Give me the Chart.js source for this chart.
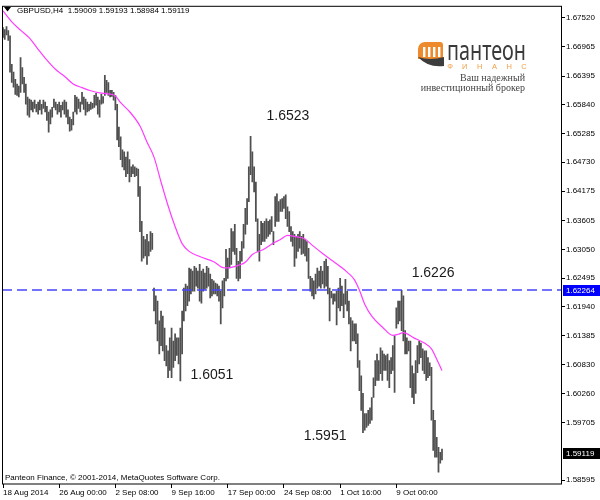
<!DOCTYPE html>
<html>
<head>
<meta charset="utf-8">
<script src="https://cdn.jsdelivr.net/npm/chart.js@4.4.1/dist/chart.umd.min.js"></script>
<style>
html, body { margin: 0; padding: 0; background: #fff; }
</style>
</head>
<body>
<canvas id="chart" width="600" height="500"></canvas>
<script>
// GBPUSD H4, bar index 0 = 18 Aug 2014
const dateLabels = ['18 Aug 2014', '26 Aug 00:00', '2 Sep 08:00', '9 Sep 16:00', '17 Sep 00:00', '24 Sep 08:00', '1 Oct 16:00', '9 Oct 00:00'];
const dateTickIdx = [0, 32, 64, 96, 128, 160, 192, 224];

const highs = [
  1.6733, 1.6729, 1.6735, 1.6727, 1.6717, 1.6662, 1.6647, 1.6633, 1.6624, 1.6620,
  1.6675, 1.6656, 1.6637, 1.6624, 1.6599, 1.6595, 1.6593, 1.6589, 1.6593, 1.6585,
  1.6589, 1.6593, 1.6585, 1.6593, 1.6589, 1.6581, 1.6570, 1.6574, 1.6579, 1.6595,
  1.6589, 1.6585, 1.6589, 1.6583, 1.6589, 1.6593, 1.6589, 1.6574, 1.6560, 1.6556,
  1.6570, 1.6602, 1.6599, 1.6595, 1.6589, 1.6608, 1.6599, 1.6595, 1.6589, 1.6585,
  1.6589, 1.6587, 1.6602, 1.6606, 1.6599, 1.6593, 1.6604, 1.6600, 1.6641, 1.6631,
  1.6627, 1.6612, 1.6612, 1.6608, 1.6602, 1.6585, 1.6541, 1.6522, 1.6497, 1.6493,
  1.6483, 1.6493, 1.6478, 1.6464, 1.6468, 1.6464, 1.6462, 1.6460, 1.6426, 1.6359,
  1.6330, 1.6324, 1.6334, 1.6320, 1.6339, 1.6336, 1.6230, 1.6215, 1.6205, 1.6167,
  1.6186, 1.6176, 1.6153, 1.6119, 1.6109, 1.6134, 1.6153, 1.6128, 1.6142, 1.6134,
  1.6134, 1.6153, 1.6186, 1.6230, 1.6238, 1.6234, 1.6269, 1.6267, 1.6263, 1.6272,
  1.6269, 1.6263, 1.6276, 1.6263, 1.6267, 1.6259, 1.6272, 1.6269, 1.6257, 1.6247,
  1.6244, 1.6240, 1.6238, 1.6234, 1.6224, 1.6244, 1.6249, 1.6305, 1.6288, 1.6307,
  1.6345, 1.6339, 1.6353, 1.6307, 1.6282, 1.6301, 1.6320, 1.6353, 1.6384, 1.6403,
  1.6464, 1.6523, 1.6493, 1.6464, 1.6435, 1.6364, 1.6334, 1.6359, 1.6355, 1.6359,
  1.6364, 1.6359, 1.6362, 1.6368, 1.6339, 1.6407, 1.6412, 1.6397, 1.6401, 1.6403,
  1.6407, 1.6410, 1.6387, 1.6378, 1.6349, 1.6339, 1.6334, 1.6330, 1.6334, 1.6339,
  1.6330, 1.6334, 1.6324, 1.6320, 1.6307, 1.6253, 1.6249, 1.6244, 1.6257, 1.6269,
  1.6263, 1.6272, 1.6263, 1.6282, 1.6286, 1.6272, 1.6230, 1.6224, 1.6219, 1.6219,
  1.6224, 1.6230, 1.6249, 1.6234, 1.6219, 1.6247, 1.6224, 1.6205, 1.6173, 1.6167,
  1.6161, 1.6161, 1.6142, 1.6090, 1.6061, 1.6027, 1.5988, 1.5988, 1.5994, 1.5999,
  1.6019, 1.6057, 1.6090, 1.6103, 1.6090, 1.6115, 1.6109, 1.6103, 1.6100, 1.6103,
  1.6090, 1.6096, 1.6119, 1.6138, 1.6192, 1.6205, 1.6205, 1.6226, 1.6215, 1.6148,
  1.6134, 1.6128, 1.6128, 1.6080, 1.6065, 1.6090, 1.6119, 1.6128, 1.6124, 1.6113,
  1.6109, 1.6109, 1.6096, 1.6086, 1.6077, 1.5994, 1.5975, 1.5942, 1.5923, 1.5913,
  1.59193
];
const lows = [
  1.6714, 1.6710, 1.6719, 1.6708, 1.6647, 1.6627, 1.6618, 1.6604, 1.6602, 1.6599,
  1.6608, 1.6624, 1.6608, 1.6585, 1.6564, 1.6560, 1.6574, 1.6570, 1.6577, 1.6570,
  1.6566, 1.6574, 1.6566, 1.6577, 1.6570, 1.6554, 1.6531, 1.6547, 1.6560, 1.6579,
  1.6574, 1.6566, 1.6570, 1.6560, 1.6574, 1.6566, 1.6560, 1.6547, 1.6533, 1.6535,
  1.6545, 1.6570, 1.6566, 1.6577, 1.6570, 1.6585, 1.6575, 1.6564, 1.6570, 1.6572,
  1.6575, 1.6577, 1.6579, 1.6583, 1.6566, 1.6560, 1.6585, 1.6587, 1.6602, 1.6608,
  1.6602, 1.6599, 1.6600, 1.6593, 1.6574, 1.6516, 1.6503, 1.6478, 1.6464, 1.6458,
  1.6445, 1.6451, 1.6435, 1.6445, 1.6451, 1.6445, 1.6447, 1.6407, 1.6339, 1.6282,
  1.6288, 1.6292, 1.6276, 1.6292, 1.6301, 1.6305, 1.6186, 1.6161, 1.6128, 1.6103,
  1.6119, 1.6109, 1.6090, 1.6080, 1.6057, 1.6071, 1.6057, 1.6077, 1.6090, 1.6100,
  1.6084, 1.6051, 1.6103, 1.6167, 1.6186, 1.6196, 1.6205, 1.6219, 1.6224, 1.6224,
  1.6234, 1.6230, 1.6205, 1.6201, 1.6224, 1.6228, 1.6230, 1.6234, 1.6211, 1.6215,
  1.6219, 1.6219, 1.6215, 1.6205, 1.6161, 1.6192, 1.6215, 1.6244, 1.6249, 1.6269,
  1.6276, 1.6301, 1.6295, 1.6249, 1.6244, 1.6249, 1.6282, 1.6307, 1.6334, 1.6353,
  1.6397, 1.6449, 1.6435, 1.6416, 1.6359, 1.6301, 1.6282, 1.6314, 1.6320, 1.6320,
  1.6326, 1.6330, 1.6334, 1.6339, 1.6314, 1.6349, 1.6359, 1.6359, 1.6378, 1.6378,
  1.6384, 1.6364, 1.6349, 1.6339, 1.6320, 1.6311, 1.6272, 1.6288, 1.6301, 1.6307,
  1.6295, 1.6297, 1.6292, 1.6282, 1.6249, 1.6224, 1.6215, 1.6209, 1.6219, 1.6230,
  1.6234, 1.6230, 1.6238, 1.6230, 1.6234, 1.6219, 1.6167, 1.6211, 1.6199, 1.6205,
  1.6159, 1.6192, 1.6186, 1.6196, 1.6173, 1.6199, 1.6186, 1.6161, 1.6109, 1.6128,
  1.6128, 1.6123, 1.6077, 1.6032, 1.5994, 1.5951, 1.5956, 1.5961, 1.5965, 1.5969,
  1.5975, 1.6019, 1.6042, 1.6052, 1.6052, 1.6065, 1.6052, 1.6071, 1.6071, 1.6052,
  1.6038, 1.6065, 1.6071, 1.6029, 1.6153, 1.6161, 1.6167, 1.6148, 1.6128, 1.6103,
  1.6103, 1.6109, 1.6038, 1.6019, 1.6007, 1.6027, 1.6067, 1.6084, 1.6096, 1.6071,
  1.6065, 1.6052, 1.6057, 1.6061, 1.5975, 1.5917, 1.5904, 1.5904, 1.5875, 1.5892,
  1.58984
];

// moving average read at some bars
const maIndex = [0, 5, 10, 15, 20, 25, 30, 35, 40, 45, 50, 55, 60, 64, 67, 72, 78, 82, 86, 90,
  94, 98, 102, 106, 112, 120, 126, 130, 134, 138, 142, 148, 154, 158, 162, 166, 172, 176, 182, 188,
  192, 196, 200, 203, 206, 210, 216, 222, 225, 228, 234, 240, 244, 247, 250];
const maValues = [1.6765, 1.6744, 1.6728, 1.6713, 1.6691, 1.6670, 1.6652, 1.6639, 1.6624, 1.6617,
  1.6611, 1.6607, 1.6605, 1.6601, 1.6588, 1.6571, 1.6543, 1.6512, 1.6483, 1.6435,
  1.6389, 1.6349, 1.6316, 1.6301, 1.6291, 1.6281, 1.6269, 1.6270, 1.6274, 1.6280,
  1.6295, 1.6304, 1.6317, 1.6324, 1.6332, 1.6330, 1.6325, 1.6313, 1.6297, 1.6282,
  1.6272, 1.6261, 1.6247, 1.6226, 1.6199, 1.6176, 1.6155, 1.6139, 1.6141, 1.6144,
  1.6134, 1.6124, 1.6113, 1.6093, 1.6071];

const yTicks = [1.67520, 1.66965, 1.66395, 1.65840, 1.65285, 1.64730, 1.64175, 1.63605, 1.63050,
  1.62495, 1.61940, 1.61385, 1.60830, 1.60260, 1.59705, 1.58595];

const levelLine = 1.62264;
const lastClose = 1.59119;
const titleText = 'GBPUSD,H4  1.59009 1.59193 1.58984 1.59119';

// swing labels: text, bar index, price
const swingText = ['1.6523', '1.6051', '1.6226', '1.5951'];
const swingIdx = [162.3, 119.0, 244.9, 183.4];
const swingPrice = [1.6562, 1.6063, 1.6259, 1.5944];

// axis ranges
const xMin = -0.57, xMax = 318.34;
const yMin = 1.585199, yMax = 1.677503;

Chart.defaults.font.family = '"Liberation Sans", Arial, sans-serif';

const barData = highs.map((h, i) => ({ x: i, y: [lows[i], h] }));
const maData = maIndex.map((idx, k) => ({ x: idx, y: maValues[k] }));

function fitText(ctx, text, x, y, width) {
    const w = ctx.measureText(text).width;
    ctx.save();
    ctx.translate(x, y);
    ctx.scale(width / w, 1);
    ctx.fillText(text, 0, 0);
    ctx.restore();
}

const decor = {
    id: 'decor',
    beforeDraw(chart) {
        const ctx = chart.ctx;
        ctx.save();
        ctx.fillStyle = '#fff';
        ctx.fillRect(0, 0, chart.width, chart.height);
        ctx.restore();
    },
    beforeDatasetsDraw(chart) {
        const ctx = chart.ctx;
        ctx.save();
        // logo icon
        ctx.fillStyle = '#ec8a2c';
        ctx.beginPath();
        ctx.roundRect(418, 42, 25, 17, [7, 3, 0, 0]);
        ctx.fill();
        ctx.fillStyle = '#fff';
        for (let k = 0; k < 4; k++) ctx.fillRect(423 + k * 5, 47, 2.4, 10);
        ctx.fillStyle = '#3d3d3d';
        ctx.beginPath();
        ctx.moveTo(418, 57);
        ctx.quadraticCurveTo(430, 61, 444, 57);
        ctx.lineTo(444, 66);
        ctx.quadraticCurveTo(428, 68, 418, 57);
        ctx.fill();
        // logo text
        ctx.fillStyle = '#3a3a3a';
        ctx.font = '27px "Noto Sans"';
        ctx.textBaseline = 'alphabetic';
        ctx.textAlign = 'left';
        fitText(ctx, 'пантеон', 447, 60, 79);
        ctx.fillStyle = '#f0a048';
        ctx.font = '7.5px "Liberation Sans"';
        ctx.textAlign = 'center';
        const fin = ['Ф', 'И', 'Н', 'А', 'Н', 'С'];
        fin.forEach((ch, k) => ctx.fillText(ch, 450 + k * 14.8, 68.5));
        ctx.fillStyle = '#444';
        ctx.font = '10px "Liberation Serif"';
        ctx.textAlign = 'right';
        ctx.fillText('Ваш надежный', 525, 81);
        ctx.fillText('инвестиционный брокер', 525, 91);
        ctx.restore();
    },
    afterDraw(chart) {
        const ctx = chart.ctx;
        const a = chart.chartArea;
        const ys = chart.scales.y;
        const xs = chart.scales.x;
        ctx.save();
        // frame
        ctx.strokeStyle = '#000';
        ctx.lineWidth = 1;
        ctx.strokeRect(a.left + 0.5, a.top + 0.5, a.right - a.left - 1, a.bottom - a.top - 0.5);
        // title
        ctx.fillStyle = '#000';
        ctx.beginPath();
        ctx.moveTo(4, 7); ctx.lineTo(11, 7); ctx.lineTo(7.5, 11.5);
        ctx.fill();
        ctx.font = '8px "Liberation Sans"';
        ctx.textBaseline = 'alphabetic';
        ctx.textAlign = 'left';
        ctx.fillText(titleText, 17, 12.5);
        ctx.fillText('Panteon Finance, © 2001-2014, MetaQuotes Software Corp.', 5, 480);
        // swing labels
        ctx.fillStyle = '#1a1a1a';
        ctx.font = '14px "Liberation Sans"';
        ctx.textAlign = 'center';
        ctx.textBaseline = 'middle';
        swingText.forEach((t, k) => {
            ctx.fillText(t, xs.getPixelForValue(swingIdx[k]), ys.getPixelForValue(swingPrice[k]));
        });
        // price boxes on the axis
        const box = (val, bg) => {
            const y = Math.round(ys.getPixelForValue(val));
            ctx.fillStyle = bg;
            ctx.fillRect(563, y - 5, 37, 11);
            ctx.fillStyle = '#fff';
            ctx.font = '8px "Liberation Sans"';
            ctx.textAlign = 'left';
            ctx.textBaseline = 'middle';
            ctx.fillText(val.toFixed(5), 566, y + 0.5);
        };
        box(levelLine, '#0000ff');
        box(lastClose, '#000');
        ctx.restore();
    }
};

new Chart(document.getElementById('chart'), {
    type: 'bar',
    data: {
        datasets: [
            {
                type: 'line',
                data: [{ x: xMin, y: levelLine }, { x: xMax, y: levelLine }],
                borderColor: '#4545ff',
                borderWidth: 1.6,
                borderDash: [10, 5],
                pointRadius: 0,
                order: 1
            },
            {
                type: 'line',
                data: maData,
                borderColor: '#ff3dff',
                borderWidth: 1.2,
                pointRadius: 0,
                cubicInterpolationMode: 'monotone',
                order: 2
            },
            {
                type: 'bar',
                data: barData,
                backgroundColor: '#505050',
                barThickness: 1.1,
                order: 3
            }
        ]
    },
    options: {
        responsive: false,
        animation: false,
        layout: { padding: { left: 2, top: 3, right: 0, bottom: 0 } },
        plugins: { legend: { display: false }, tooltip: { enabled: false } },
        scales: {
            x: {
                type: 'linear',
                offset: false,
                min: xMin,
                max: xMax,
                afterBuildTicks: s => { s.ticks = dateTickIdx.map(v => ({ value: v })); },
                afterFit: s => { s.height = 16; },
                grid: { drawOnChartArea: false, tickLength: 4, color: '#000', offset: false },
                border: { display: false },
                ticks: {
                    align: 'start',
                    padding: 0,
                    maxRotation: 0,
                    autoSkip: false,
                    color: '#000',
                    font: { size: 8 },
                    callback: v => dateLabels[dateTickIdx.indexOf(v)]
                }
            },
            y: {
                position: 'right',
                min: yMin,
                max: yMax,
                afterBuildTicks: s => { s.ticks = yTicks.map(v => ({ value: v })); },
                afterFit: s => { s.width = 38; },
                grid: { drawOnChartArea: false, tickLength: 3, color: '#000' },
                border: { display: false },
                ticks: {
                    padding: 1,
                    color: '#000',
                    font: { size: 8 },
                    callback: v => v.toFixed(5)
                }
            }
        }
    },
    plugins: [decor]
});
</script>
</body>
</html>
